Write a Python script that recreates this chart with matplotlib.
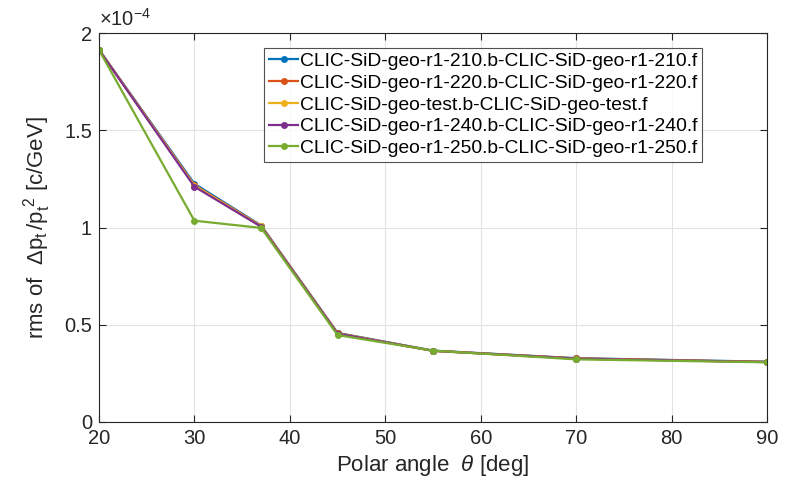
import matplotlib.pyplot as plt
import numpy as np

plt.rcParams['font.family'] = ['Liberation Sans', 'DejaVu Sans']
plt.rcParams['mathtext.fontset'] = 'custom'
plt.rcParams['mathtext.rm'] = 'Liberation Sans'
plt.rcParams['mathtext.it'] = 'Liberation Sans:italic'

theta = [20, 30, 37, 45, 55, 70, 90]
labels = ['CLIC-SiD-geo-r1-210.b-CLIC-SiD-geo-r1-210.f',
          'CLIC-SiD-geo-r1-220.b-CLIC-SiD-geo-r1-220.f',
          'CLIC-SiD-geo-test.b-CLIC-SiD-geo-test.f',
          'CLIC-SiD-geo-r1-240.b-CLIC-SiD-geo-r1-240.f',
          'CLIC-SiD-geo-r1-250.b-CLIC-SiD-geo-r1-250.f']
# values in units of 1e-4 c/GeV
r210 = [1.915, 1.225, 1.010, 0.458, 0.367, 0.328, 0.310]
r220 = [1.914, 1.218, 1.008, 0.456, 0.366, 0.327, 0.309]
rtest = [1.913, 1.216, 1.006, 0.455, 0.366, 0.326, 0.308]
r240 = [1.913, 1.210, 1.004, 0.454, 0.366, 0.326, 0.308]
r250 = [1.913, 1.035, 0.998, 0.447, 0.367, 0.322, 0.307]
series = [r210, r220, rtest, r240, r250]
colors = ['#0072BD', '#D95319', '#EDB120', '#7E2F8E', '#77AC30']

fig = plt.figure(figsize=(7.88, 4.86), dpi=100)
ax = fig.add_axes([0.1256, 0.1317, 0.8478, 0.8003])

for vals, lab, c in zip(series, labels, colors):
    ax.plot(theta, np.array(vals) * 1e-4, '-o', color=c, lw=1.6, ms=4, label=lab)

ax.set_xlim(20, 90)
ax.set_ylim(0, 2e-4)
ax.set_xticks(np.arange(20, 91, 10))
ax.set_yticks(np.arange(0, 2.01e-4, 0.5e-4))
ax.set_yticklabels(['0', '0.5', '1', '1.5', '2'])
ax.grid(True, color='#e3e3e3', lw=0.8)
ax.set_axisbelow(True)
ax.tick_params(direction='in', labelsize=14.5, length=5, top=True, right=True,
               colors='#262626')
ax.tick_params(axis='x', pad=5)
ax.tick_params(axis='y', pad=5)
for s in ax.spines.values():
    s.set_color('#262626')
    s.set_linewidth(0.8)

ax.text(0.0, 1.008, r'$\times 10^{-4}$', transform=ax.transAxes, fontsize=14.5,
        ha='left', va='bottom', color='#262626')
ax.set_xlabel(r'Polar angle  $\it{\theta}$ [deg]', fontsize=16, color='#262626',
              labelpad=4)
ax.set_ylabel(r'rms of  $\Delta\mathrm{p_t\,/p_t^{\ 2}}$ [c/GeV]', fontsize=16,
              color='#262626', labelpad=8)

leg = ax.legend(loc='upper right', bbox_to_anchor=(0.903, 0.962), fontsize=13.9,
                frameon=True, fancybox=False, edgecolor='#262626',
                handlelength=1.5, handletextpad=0.1, borderpad=0.25,
                labelspacing=0.22, borderaxespad=0.0)
leg.get_frame().set_linewidth(0.8)

fig.savefig('out.png', dpi=100)
